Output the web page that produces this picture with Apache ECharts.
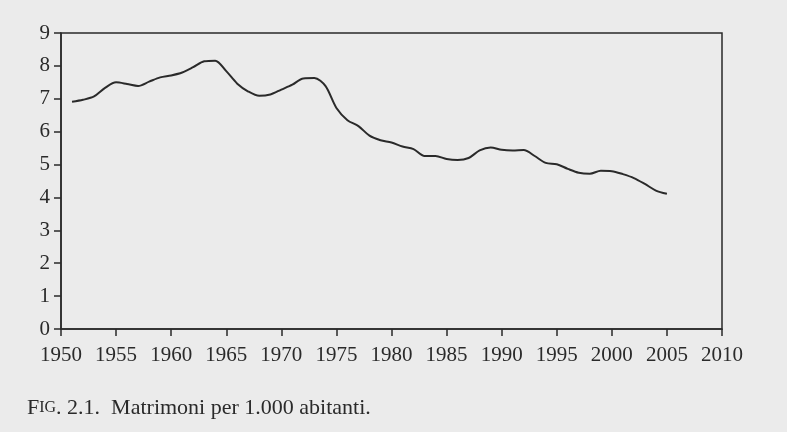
<!DOCTYPE html>
<html>
<head>
<meta charset="utf-8">
<script src="https://cdn.jsdelivr.net/npm/echarts@6/dist/echarts.min.js"></script>
<style>
  html, body { margin: 0; padding: 0; background: #ebebeb; }
  #chart { width: 787px; height: 432px; }
</style>
</head>
<body>
<div id="chart"></div>
<script>
// anni 1951-2005, matrimoni per 1.000 abitanti
const years = [
  1951, 1952, 1953, 1954, 1955, 1956, 1957, 1958, 1959, 1960,
  1961, 1962, 1963, 1964, 1965, 1966, 1967, 1968, 1969, 1970,
  1971, 1972, 1973, 1974, 1975, 1976, 1977, 1978, 1979, 1980,
  1981, 1982, 1983, 1984, 1985, 1986, 1987, 1988, 1989, 1990,
  1991, 1992, 1993, 1994, 1995, 1996, 1997, 1998, 1999, 2000,
  2001, 2002, 2003, 2004, 2005,
];
const rates = [
  6.91, 6.97, 7.07, 7.33, 7.50, 7.45, 7.39, 7.52, 7.65, 7.71,
  7.80, 7.96, 8.14, 8.16, 7.84, 7.46, 7.22, 7.09, 7.13, 7.28,
  7.43, 7.62, 7.63, 7.39, 6.72, 6.35, 6.17, 5.88, 5.74, 5.67,
  5.55, 5.47, 5.26, 5.26, 5.17, 5.14, 5.20, 5.43, 5.52, 5.45,
  5.43, 5.44, 5.26, 5.05, 5.01, 4.87, 4.75, 4.72, 4.81, 4.80,
  4.71, 4.59, 4.41, 4.21, 4.11,
];
const caption = 'Matrimoni per 1.000 abitanti.';

const chart = echarts.init(document.getElementById('chart'));
const serif = '"Liberation Serif", "DejaVu Serif", serif';

const option = {
  backgroundColor: '#ebebeb',
  animation: false,
  grid: {
    left: 61,
    right: 65,
    top: 33,
    bottom: 103,
    show: true,
    borderColor: '#2a2a2a',
    borderWidth: 1.5,
    backgroundColor: 'transparent',
  },
  xAxis: {
    type: 'value',
    min: 1950,
    max: 2010,
    interval: 5,
    splitLine: { show: false },
    axisLine: { lineStyle: { color: '#2a2a2a', width: 1.5 } },
    axisTick: { length: 7, lineStyle: { color: '#2a2a2a', width: 1.5 } },
    axisLabel: {
      margin: 16,
      color: '#2a2a2a',
      fontFamily: serif,
      fontSize: 21,
      formatter: (v) => String(v),
    },
  },
  yAxis: {
    type: 'value',
    min: 0,
    max: 9,
    interval: 1,
    splitLine: { show: false },
    axisLine: { show: true, lineStyle: { color: '#2a2a2a', width: 1.5 } },
    axisTick: { show: true, length: 7, lineStyle: { color: '#2a2a2a', width: 1.5 } },
    axisLabel: {
      margin: 11,
      color: '#2a2a2a',
      fontFamily: serif,
      fontSize: 21,
    },
  },
  series: [
    {
      type: 'line',
      data: years.map((y, i) => [y, rates[i]]),
      showSymbol: false,
      smooth: 0.3,
      lineStyle: { color: '#2a2a2a', width: 2 },
    },
  ],
  graphic: [
    {
      type: 'text',
      left: 27,
      top: 397,
      style: {
        text: '{a|F}{b|IG}{a|. 2.1.  ' + caption + '}',
        rich: {
          a: { fontFamily: serif, fontSize: 22, fill: '#2a2a2a' },
          b: { fontFamily: serif, fontSize: 16, fill: '#2a2a2a' },
        },
      },
    },
  ],
};

chart.setOption(option);
</script>
</body>
</html>
